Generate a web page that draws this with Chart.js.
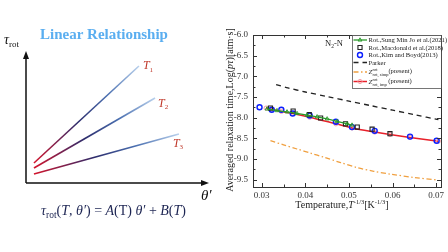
<!DOCTYPE html>
<html>
<head>
<meta charset="utf-8">
<script src="https://cdn.jsdelivr.net/npm/chart.js@4/dist/chart.umd.min.js"></script>
<style>
  html, body { margin: 0; padding: 0; background: #fff; }
  #wrap { position: relative; width: 448px; height: 252px; overflow: hidden; }
  canvas { position: absolute; top: 0; }
  #left { left: 0; }
  #right { left: 224px; }
</style>
</head>
<body>
<div id="wrap">
  <canvas id="left" width="224" height="252"></canvas>
  <canvas id="right" width="224" height="252"></canvas>
</div>
<script>
// left panel: schematic tau_rot vs theta' lines
const lineNames = ['1', '2', '3'];
const thetaStart = [0.44, 0.44, 0.44];
const thetaEnd = [6.24, 7.13, 8.45];
const tauStart = [1.54, 1.15, 0.69];
const tauEnd = [9.0, 6.54, 3.77];

// right panel: relaxation time vs T^-1/3
const xTicks = [0.03, 0.04, 0.05, 0.06, 0.07];
const yTicks = [-6.0, -6.5, -7.0, -7.5, -8.0, -8.5, -9.0, -9.5];

const joX = [0.0312, 0.0335, 0.0358, 0.0381, 0.0404, 0.0427, 0.0450, 0.0473, 0.0496, 0.0507];
const joY = [-7.79, -7.83, -7.86, -7.90, -7.94, -7.98, -8.03, -8.09, -8.15, -8.18];

const macX = [0.0320, 0.0372, 0.0409, 0.0435, 0.0492, 0.0519, 0.0553, 0.0594];
const macY = [-7.77, -7.84, -7.93, -8.01, -8.15, -8.23, -8.28, -8.39];

const kimX = [0.0295, 0.0323, 0.0345, 0.0371, 0.0410, 0.0470, 0.0507, 0.0559, 0.0640, 0.0701];
const kimY = [-7.75, -7.81, -7.81, -7.90, -7.95, -8.10, -8.23, -8.32, -8.46, -8.56];

const parkerX = [0.0333, 0.0360, 0.0400, 0.0450, 0.0500, 0.0550, 0.0600, 0.0650, 0.0705];
const parkerY = [-7.20, -7.28, -7.38, -7.49, -7.60, -7.71, -7.82, -7.93, -8.05];

const simpX = [0.0320, 0.0350, 0.0381, 0.0412, 0.0443, 0.0481, 0.0519, 0.0557, 0.0596, 0.0650, 0.0703];
const simpY = [-8.56, -8.66, -8.76, -8.86, -8.96, -9.09, -9.21, -9.30, -9.37, -9.45, -9.51];

const impX = [0.0310, 0.0323, 0.0345, 0.0371, 0.0410, 0.0470, 0.0507, 0.0559, 0.0594, 0.0640, 0.0705];
const impY = [-7.77, -7.80, -7.85, -7.90, -7.99, -8.15, -8.25, -8.35, -8.41, -8.48, -8.57];

const SERIF = '"Liberation Serif", "DejaVu Serif", serif';

function toPoints(xs, ys) {
    return xs.map((x, i) => ({ x: x, y: ys[i] }));
}

// draw a run of text pieces (italic, sub/superscripts)
function drawParts(ctx, x, y, parts) {
    let cx = x;
    parts.forEach(p => {
        ctx.font = p.f;
        if (p.c) ctx.fillStyle = p.c;
        ctx.fillText(p.t, cx, y + (p.dy || 0));
        const w = ctx.measureText(p.t).width;
        cx += (p.adv === undefined) ? w : p.adv;
    });
    return cx - x;
}

function partsWidth(ctx, parts) {
    let w = 0;
    parts.forEach(p => {
        ctx.font = p.f;
        w += (p.adv === undefined) ? ctx.measureText(p.t).width : p.adv;
    });
    return w;
}

// ---------- left chart ----------
function lineGradient(context) {
    const chart = context.chart;
    const i = context.datasetIndex;
    if (!chart.chartArea || i === undefined) return '#2b2d6b';
    const sx = chart.scales.x, sy = chart.scales.y;
    const g = chart.ctx.createLinearGradient(
        sx.getPixelForValue(thetaStart[i]), sy.getPixelForValue(tauStart[i]),
        sx.getPixelForValue(thetaEnd[i]), sy.getPixelForValue(tauEnd[i]));
    g.addColorStop(0, '#d4142c');
    g.addColorStop(0.42, '#2c2c6c');
    g.addColorStop(0.7, '#4a6fb0');
    g.addColorStop(1, '#b8d0ec');
    return g;
}

const leftDecor = {
    id: 'leftDecor',
    afterDraw(chart) {
        const ctx = chart.ctx;
        const a = chart.chartArea;
        ctx.save();
        // axes with arrows
        ctx.strokeStyle = '#111';
        ctx.fillStyle = '#111';
        ctx.lineWidth = 1.5;
        ctx.beginPath();
        ctx.moveTo(a.left, a.bottom);
        ctx.lineTo(a.left, a.top + 4);
        ctx.moveTo(a.left, a.bottom);
        ctx.lineTo(a.right - 4, a.bottom);
        ctx.stroke();
        ctx.beginPath();
        ctx.moveTo(a.left, a.top - 2);
        ctx.lineTo(a.left - 3, a.top + 6);
        ctx.lineTo(a.left + 3, a.top + 6);
        ctx.closePath();
        ctx.fill();
        ctx.beginPath();
        ctx.moveTo(a.right + 2, a.bottom);
        ctx.lineTo(a.right - 6, a.bottom - 3);
        ctx.lineTo(a.right - 6, a.bottom + 3);
        ctx.closePath();
        ctx.fill();

        // T labels at the end of each line
        const offs = [[4, 3], [3, 9], [-6, 13]];
        ctx.textBaseline = 'alphabetic';
        ctx.textAlign = 'left';
        lineNames.forEach((n, i) => {
            const pt = chart.getDatasetMeta(i).data[1];
            drawParts(ctx, pt.x + offs[i][0], pt.y + offs[i][1], [
                { t: 'T', f: 'italic 12px ' + SERIF, c: '#c0392b' },
                { t: n, f: '7px ' + SERIF, dy: 2.5 }
            ]);
        });

        // title
        ctx.fillStyle = '#5aaef0';
        ctx.font = 'bold 15px ' + SERIF;
        ctx.textAlign = 'center';
        ctx.fillText('Linear Relationship', 104, 39);
        ctx.textAlign = 'left';

        // axis labels
        ctx.fillStyle = '#111';
        drawParts(ctx, 4, 44, [
            { t: 'τ', f: 'italic 14px ' + SERIF },
            { t: 'rot', f: '9px ' + SERIF, dy: 3 }
        ]);
        drawParts(ctx, 201, 200, [
            { t: 'θ′', f: 'italic 15px ' + SERIF }
        ]);

        // formula
        const fs = '14px ' + SERIF, fi = 'italic 14px ' + SERIF;
        const formula = [
            { t: 'τ', f: fi }, { t: 'rot', f: '9.5px ' + SERIF, dy: 3 },
            { t: '(', f: fs }, { t: 'T', f: fi }, { t: ', ', f: fs }, { t: 'θ′', f: fi },
            { t: ') = ', f: fs }, { t: 'A', f: fi }, { t: '(T) ', f: fs }, { t: 'θ′', f: fi },
            { t: ' + ', f: fs }, { t: 'B', f: fi }, { t: '(', f: fs }, { t: 'T', f: fi },
            { t: ')', f: fs }
        ];
        const fw = partsWidth(ctx, formula);
        ctx.fillStyle = '#1c2452';
        drawParts(ctx, 113.5 - fw / 2, 215, formula);
        ctx.restore();
    }
};

new Chart(document.getElementById('left'), {
    type: 'scatter',
    data: {
        datasets: lineNames.map((n, i) => ({
            label: 'T' + n,
            data: [{ x: thetaStart[i], y: tauStart[i] }, { x: thetaEnd[i], y: tauEnd[i] }],
            showLine: true,
            pointRadius: 0,
            borderWidth: 1.6,
            borderColor: lineGradient
        }))
    },
    options: {
        responsive: false,
        animation: false,
        layout: { padding: { left: 26, right: 17, top: 53, bottom: 69 } },
        plugins: { legend: { display: false }, tooltip: { enabled: false } },
        scales: {
            x: { type: 'linear', display: false, min: 0, max: 10 },
            y: { type: 'linear', display: false, min: 0, max: 10 }
        }
    },
    plugins: [leftDecor]
});

// ---------- right chart ----------
function drawMarker(ctx, style, x, y, r, color, lw) {
    ctx.save();
    ctx.strokeStyle = color;
    ctx.lineWidth = lw;
    ctx.beginPath();
    if (style === 'circle') {
        ctx.arc(x, y, r, 0, Math.PI * 2);
    } else if (style === 'rect') {
        const s = r * Math.SQRT2;
        ctx.rect(x - s / 2, y - s / 2, s, s);
    } else if (style === 'triangle') {
        ctx.moveTo(x, y - r);
        ctx.lineTo(x + r * 0.87, y + r * 0.5);
        ctx.lineTo(x - r * 0.87, y + r * 0.5);
        ctx.closePath();
    }
    ctx.stroke();
    ctx.restore();
}

const legendRows = [
    { ds: 0, parts: [{ t: 'Rot.,Sung Min Jo et al.(2021)' }] },
    { ds: 1, parts: [{ t: 'Rot.,Macdonald et al.(2018)' }] },
    { ds: 2, parts: [{ t: 'Rot.,Kim and Boyd(2013)' }] },
    { ds: 3, parts: [{ t: 'Parker' }] },
    { ds: 4, parts: [{ t: 'Z', f: 'italic' }, { t: 'rot', s: 1, dy: -2.8, adv: 0 },
                     { t: 'rot, simp', s: 1, dy: 2 }, { t: '(present)', dy: -1.2 }] },
    { ds: 5, parts: [{ t: 'Z', f: 'italic' }, { t: 'rot', s: 1, dy: -2.8, adv: 0 },
                     { t: 'rot, imp', s: 1, dy: 2 }, { t: ' (present)', dy: -1.2 }] }
];
const legendY = [40, 47.5, 55, 62.5, 72, 81.5];

const rightDecor = {
    id: 'rightDecor',
    afterDraw(chart) {
        const ctx = chart.ctx;
        const a = chart.chartArea;
        const sx = chart.scales.x, sy = chart.scales.y;
        ctx.save();
        ctx.strokeStyle = '#333';
        ctx.lineWidth = 1;
        ctx.strokeRect(Math.round(a.left) + 0.5, Math.round(a.top) + 0.5,
            Math.round(a.right - a.left), Math.round(a.bottom - a.top));

        // inward ticks on all sides, majors plus one minor between
        ctx.beginPath();
        xTicks.forEach((v, i) => {
            const px = Math.round(sx.getPixelForValue(v)) + 0.5;
            ctx.moveTo(px, a.bottom); ctx.lineTo(px, a.bottom - 4);
            ctx.moveTo(px, a.top); ctx.lineTo(px, a.top + 4);
            if (i < xTicks.length - 1) {
                const mx = Math.round(sx.getPixelForValue((v + xTicks[i + 1]) / 2)) + 0.5;
                ctx.moveTo(mx, a.bottom); ctx.lineTo(mx, a.bottom - 2.5);
                ctx.moveTo(mx, a.top); ctx.lineTo(mx, a.top + 2.5);
            }
        });
        yTicks.forEach((v, i) => {
            const py = Math.round(sy.getPixelForValue(v)) + 0.5;
            ctx.moveTo(a.left, py); ctx.lineTo(a.left + 4, py);
            ctx.moveTo(a.right, py); ctx.lineTo(a.right - 4, py);
            if (i < yTicks.length - 1) {
                const my = Math.round(sy.getPixelForValue((v + yTicks[i + 1]) / 2)) + 0.5;
                ctx.moveTo(a.left, my); ctx.lineTo(a.left + 2.5, my);
                ctx.moveTo(a.right, my); ctx.lineTo(a.right - 2.5, my);
            }
        });
        ctx.stroke();

        ctx.fillStyle = '#222';
        ctx.textAlign = 'left';
        ctx.textBaseline = 'alphabetic';

        // N2-N
        drawParts(ctx, 101, 46, [
            { t: 'N', f: '8.5px ' + SERIF },
            { t: '2', f: '5.5px ' + SERIF, dy: 2 },
            { t: '-N', f: '8.5px ' + SERIF }
        ]);

        // x title
        const f10 = '10px ' + SERIF, sup = '6.5px ' + SERIF;
        const xt = [
            { t: 'Temperature,', f: f10 }, { t: 'T', f: 'italic 10px ' + SERIF },
            { t: '-1/3', f: sup, dy: -4 }, { t: '[K', f: f10 },
            { t: '-1/3', f: sup, dy: -4 }, { t: ']', f: f10 }
        ];
        const xw = partsWidth(ctx, xt);
        drawParts(ctx, 118 - xw / 2, 208, xt);

        // y title
        const yt = [
            { t: 'Averaged relaxation time,Log(', f: f10 },
            { t: 'p', f: 'italic 10px ' + SERIF }, { t: 'τ', f: 'italic 10px ' + SERIF },
            { t: ')[atm·s]', f: f10 }
        ];
        const yw = partsWidth(ctx, yt);
        ctx.save();
        ctx.translate(9, 110);
        ctx.rotate(-Math.PI / 2);
        drawParts(ctx, -yw / 2, 0, yt);
        ctx.restore();

        // legend box
        const lx = 128, ly = Math.round(a.top) + 0.5;
        ctx.fillStyle = '#fff';
        ctx.fillRect(lx, ly, a.right - lx, 88.5 - ly);
        ctx.strokeStyle = '#555';
        ctx.lineWidth = 0.8;
        ctx.strokeRect(lx + 0.5, ly, Math.round(a.right) - lx, 88.5 - ly);

        legendRows.forEach((row, k) => {
            const ds = chart.data.datasets[row.ds];
            const y = legendY[k];
            if (ds.showLine !== false) {
                ctx.save();
                ctx.strokeStyle = ds.borderColor;
                ctx.lineWidth = ds.borderWidth;
                ctx.setLineDash(ds.borderDash || []);
                ctx.beginPath();
                ctx.moveTo(lx + 1.5, y);
                ctx.lineTo(lx + 15, y);
                ctx.stroke();
                ctx.restore();
            }
            if (ds.pointRadius > 0) {
                drawMarker(ctx, ds.pointStyle, lx + 8, y, ds.pointRadius, ds.pointBorderColor, ds.pointBorderWidth);
            }
            ctx.fillStyle = '#222';
            drawParts(ctx, lx + 16.5, y + 2.2, row.parts.map(p => ({
                t: p.t,
                f: (p.f === 'italic' ? 'italic 7px ' : (p.s ? '4.5px ' : '6.6px ')) + SERIF,
                dy: p.dy,
                adv: p.adv
            })));
        });
        ctx.restore();
    }
};

new Chart(document.getElementById('right'), {
    type: 'scatter',
    data: {
        datasets: [
            {
                label: 'Rot.,Sung Min Jo et al.(2021)',
                data: toPoints(joX, joY),
                showLine: true, borderColor: '#2a9a2a', borderWidth: 1.3,
                pointStyle: 'triangle', pointRadius: 2.2, pointBorderWidth: 0.9,
                pointBorderColor: '#2a9a2a', pointBackgroundColor: 'rgba(0,0,0,0)'
            },
            {
                label: 'Rot.,Macdonald et al.(2018)',
                data: toPoints(macX, macY),
                showLine: false, borderColor: '#222',
                pointStyle: 'rect', pointRadius: 2.9, pointBorderWidth: 1.1,
                pointBorderColor: '#222', pointBackgroundColor: 'rgba(0,0,0,0)'
            },
            {
                label: 'Rot.,Kim and Boyd(2013)',
                data: toPoints(kimX, kimY),
                showLine: false, borderColor: '#0a1eff',
                pointStyle: 'circle', pointRadius: 2.5, pointBorderWidth: 1.4,
                pointBorderColor: '#0a1eff', pointBackgroundColor: 'rgba(0,0,0,0)'
            },
            {
                label: 'Parker',
                data: toPoints(parkerX, parkerY),
                showLine: true, borderColor: '#222', borderWidth: 1.3, borderDash: [5, 4],
                pointRadius: 0, tension: 0.3
            },
            {
                label: 'Z rot,simp (present)',
                data: toPoints(simpX, simpY),
                showLine: true, borderColor: '#f0a040', borderWidth: 1.3, borderDash: [5, 2.5, 1.5, 2.5],
                pointRadius: 0, tension: 0.3
            },
            {
                label: 'Z rot,imp (present)',
                data: toPoints(impX, impY),
                showLine: true, borderColor: '#e8202a', borderWidth: 1.5,
                cubicInterpolationMode: 'monotone',
                pointStyle: 'circle', pointRadius: 2.1, pointBorderWidth: 1,
                pointBorderColor: '#f4a0a8', pointBackgroundColor: 'rgba(0,0,0,0)'
            }
        ]
    },
    options: {
        responsive: false,
        animation: false,
        layout: { padding: { left: 0, right: 7, top: 35, bottom: 0 } },
        plugins: { legend: { display: false }, tooltip: { enabled: false } },
        scales: {
            x: {
                type: 'linear', min: 0.028, max: 0.0711,
                afterBuildTicks: s => { s.ticks = xTicks.map(v => ({ value: v })); },
                afterFit: s => { s.height = 65; },
                grid: { display: false, drawTicks: false },
                border: { display: false },
                ticks: {
                    padding: 3, color: '#333', maxRotation: 0,
                    font: { family: SERIF, size: 9 },
                    callback: v => v.toFixed(2)
                }
            },
            y: {
                type: 'linear', min: -9.68, max: -6.0,
                afterBuildTicks: s => { s.ticks = yTicks.map(v => ({ value: v })); },
                afterFit: s => { s.width = 29; },
                grid: { display: false, drawTicks: false },
                border: { display: false },
                ticks: {
                    padding: 5, color: '#333',
                    font: { family: SERIF, size: 9 },
                    callback: v => v.toFixed(1)
                }
            }
        }
    },
    plugins: [rightDecor]
});
</script>
</body>
</html>
